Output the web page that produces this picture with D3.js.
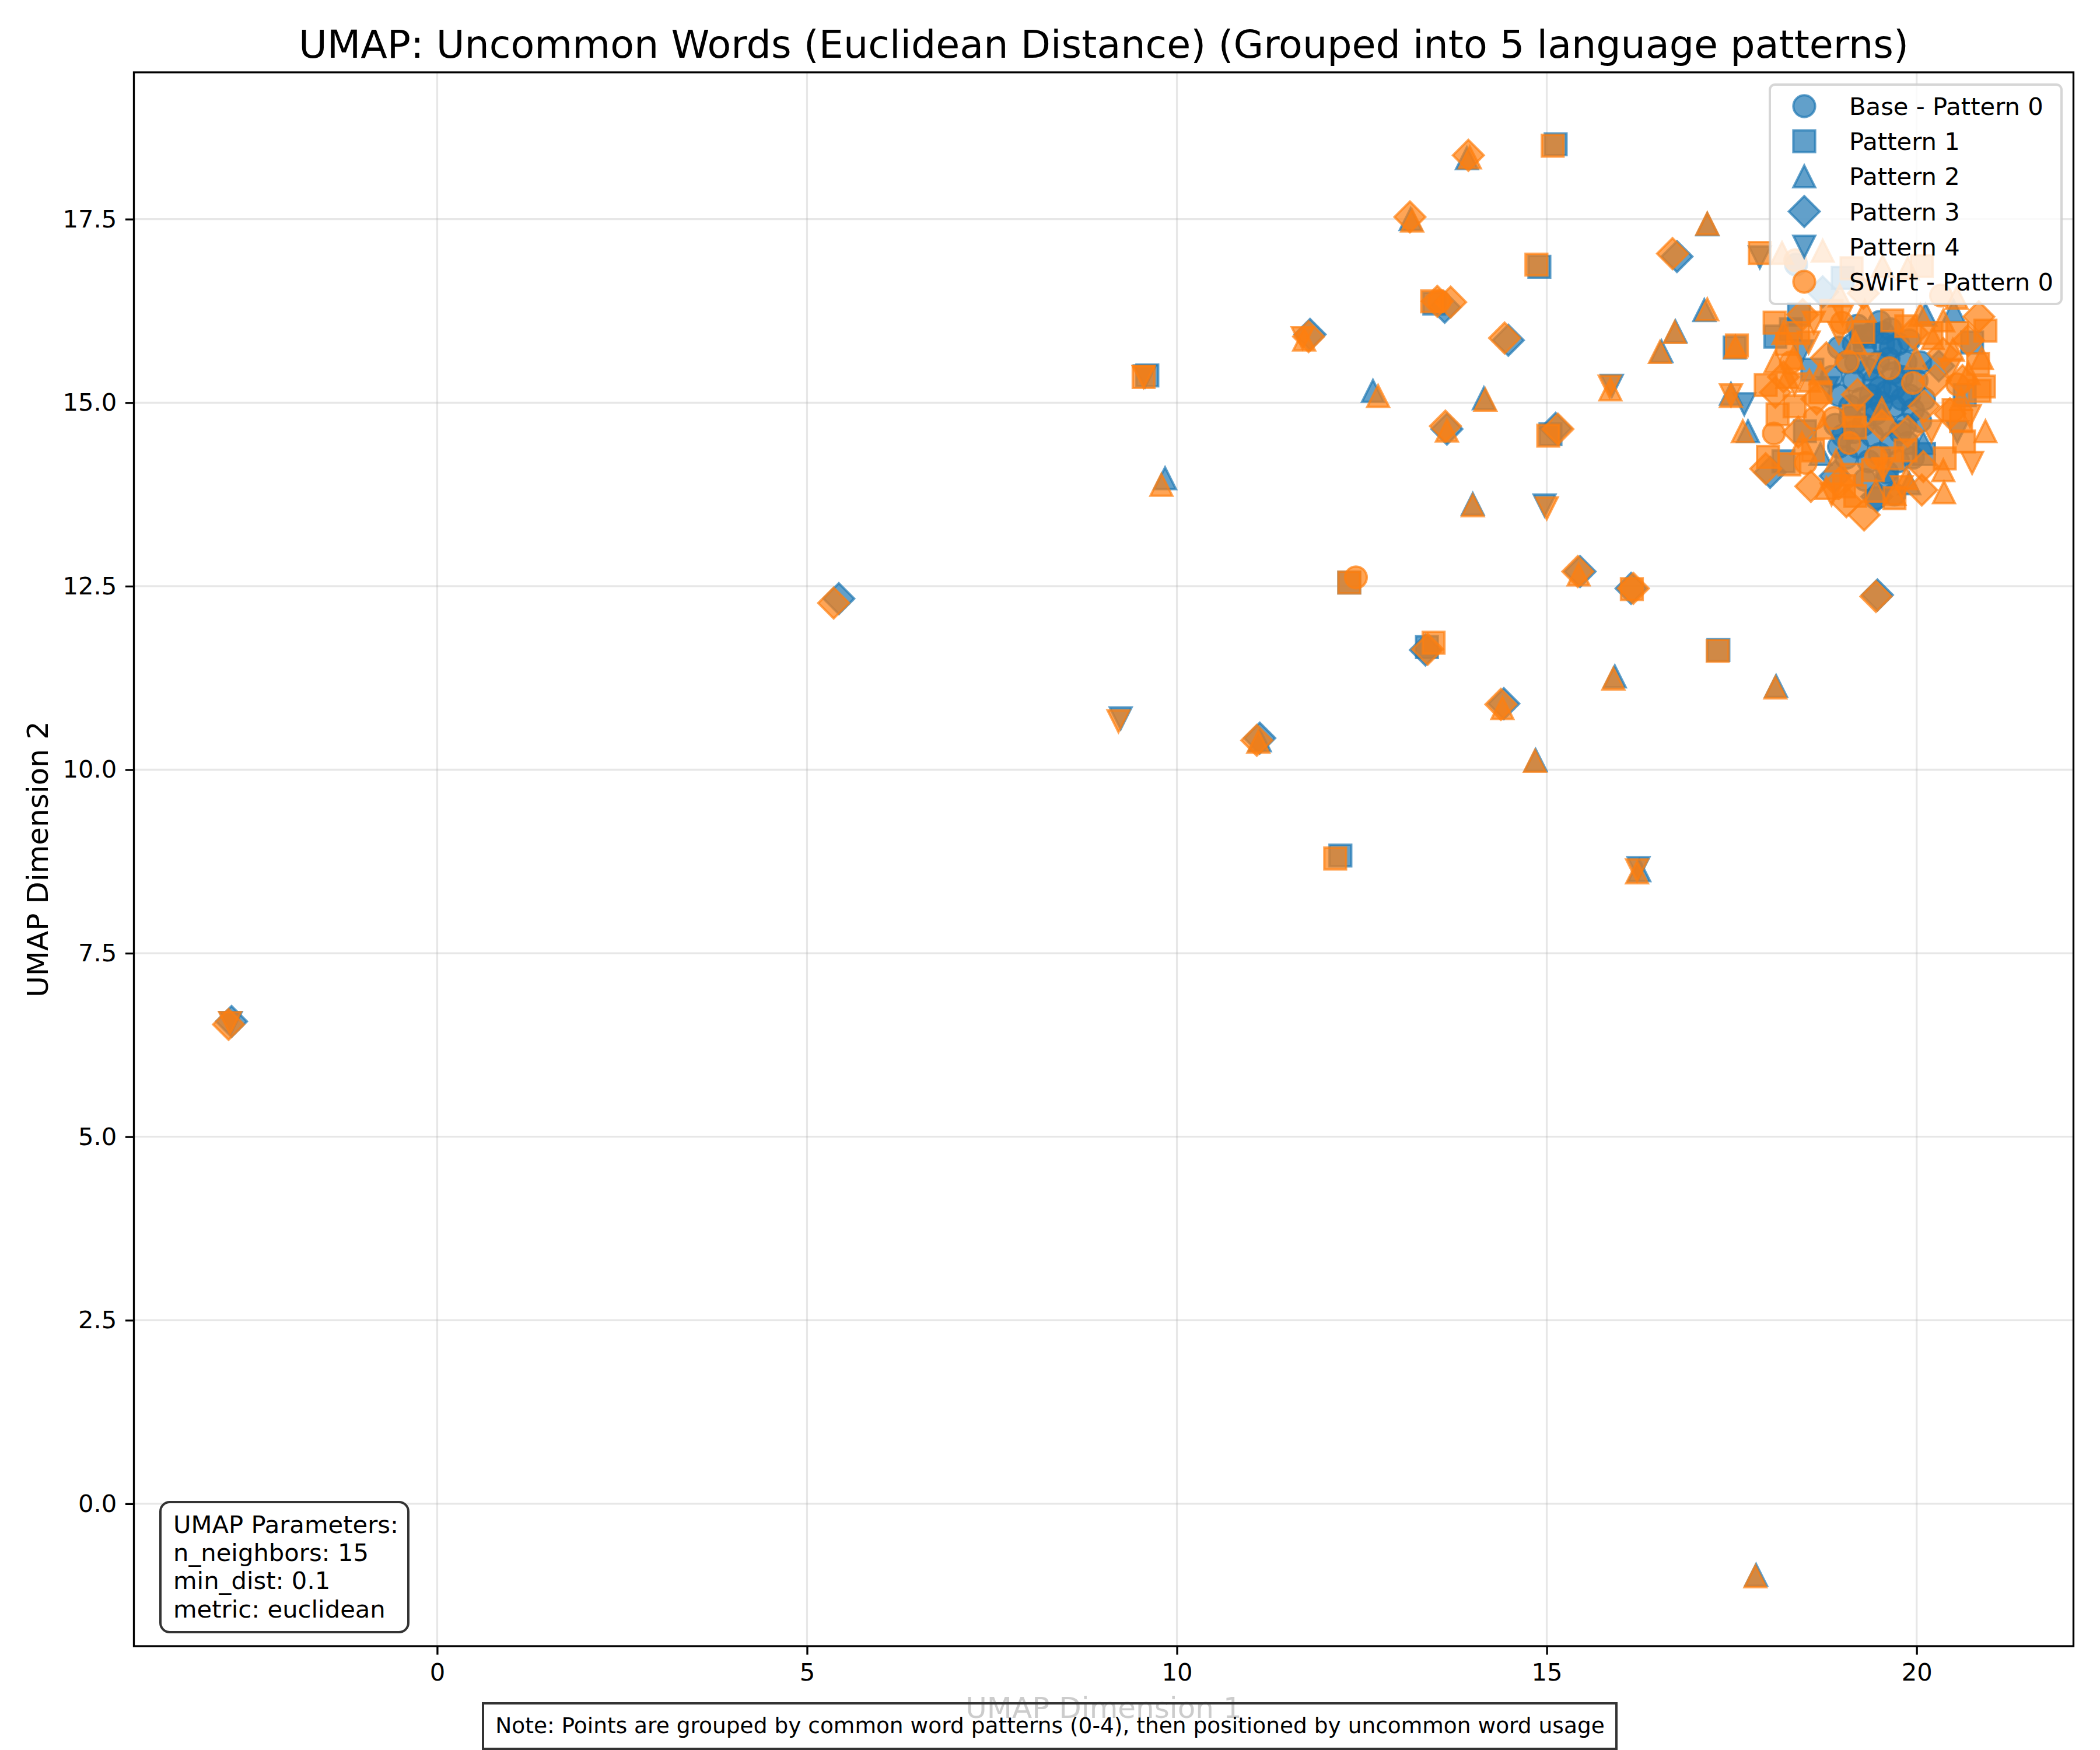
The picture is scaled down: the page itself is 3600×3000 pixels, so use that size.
<!DOCTYPE html>
<html>
<head>
<meta charset="utf-8">
<script src="https://cdn.jsdelivr.net/npm/d3@7"></script>
<style>
html,body{margin:0;padding:0;background:#fff;}
svg{display:block;font-family:"DejaVu Sans",sans-serif;}
</style>
</head>
<body>
<svg id="chart" width="3600" height="3000"></svg>
<script>
// ---------------- DATA ----------------
const titleText = "UMAP: Uncommon Words (Euclidean Distance) (Grouped into 5 language patterns)";
const xLabel = "UMAP Dimension 1";
const yLabel = "UMAP Dimension 2";
const xDomain = [-4.10, 22.12];
const yDomain = [-1.94, 19.50];
const xTicks = [0, 5, 10, 15, 20];
const yTicks = [0, 2.5, 5, 7.5, 10, 12.5, 15, 17.5];
const legendLabels = ["Base - Pattern 0", "Pattern 1", "Pattern 2", "Pattern 3", "Pattern 4", "SWiFt - Pattern 0"];
const paramLines = ["UMAP Parameters:", "n_neighbors: 15", "min_dist: 0.1", "metric: euclidean"];
const noteText = "Note: Points are grouped by common word patterns (0-4), then positioned by uncommon word usage";

// Base (blue) points by pattern
const base0 = [
 [19.50,15.20],[19.35,15.45],[19.62,15.60],[19.80,15.35],[19.25,15.05],[19.45,14.85],[19.70,14.95],
 [19.90,15.10],[19.15,15.30],[19.55,15.80],[19.30,15.75],[19.75,15.80],[19.10,14.80],[19.40,14.55],
 [19.65,14.45],[19.85,14.70],[19.95,14.90],[19.20,14.40],[19.50,14.30],[19.75,14.20],[19.05,15.55],
 [18.95,15.10],[19.60,15.15],[19.38,15.10],[19.48,15.55],[19.70,15.20],[19.28,14.70],[19.58,14.70],
 [19.85,15.55],[19.40,15.95],[19.65,16.00],[19.15,15.80],[19.00,14.55],[19.35,14.20],[19.60,13.95],
 [19.45,13.70],[20.00,15.30],[19.88,14.45],[19.25,15.90],[19.52,15.00],[19.42,15.30],[19.68,15.40],
 [19.18,15.55],[19.78,14.60],[19.10,14.95],[18.37,16.88],
 [18.95,15.75],[19.05,14.25],[19.90,15.85],[20.05,14.75],[19.30,13.95],[19.70,13.75],[18.90,14.70],
 [19.55,15.95],[20.05,15.55],[19.20,16.05],[18.85,15.35],[19.60,14.05],[19.95,14.25],[19.35,14.95],
 [19.65,15.75],[19.15,14.60],[19.80,15.05],[20.10,15.05],[18.95,14.40],[19.50,16.10]
];
const base1 = [
 [12.21,8.83],[9.60,15.37],[15.12,18.52],[14.90,16.85],[13.48,16.35],[15.05,14.57],[17.54,15.75],
 [12.33,12.55],[13.38,11.67],[17.32,11.63],[18.41,16.20],[18.09,15.90],[18.59,15.45],[18.49,14.61],
 [20.75,15.82],[19.00,16.70],[18.30,16.00],[20.65,15.10],[19.30,15.90],[20.10,14.30],[18.20,14.20]
];
const base2 = [
 [9.84,13.97],[13.16,17.50],[13.92,18.33],[12.65,15.16],[14.15,15.06],[14.00,13.62],[16.74,15.97],
 [16.55,15.70],[17.17,17.43],[17.13,16.26],[14.85,10.13],[15.92,11.27],[18.10,11.14],[16.25,8.63],
 [17.83,-0.97],[17.72,14.61],[17.49,15.12],[11.12,10.40],[20.12,16.20],[20.09,14.45],[20.50,16.25],
 [18.70,14.30],[19.90,13.90]
];
const base3 = [
 [-2.78,6.57],[5.43,12.33],[11.12,10.43],[11.80,15.93],[13.62,16.30],[14.48,15.85],[13.65,14.64],
 [15.12,14.65],[16.76,16.99],[13.36,11.63],[14.42,10.90],[15.45,12.70],[16.14,12.47],[19.47,12.38],
 [18.02,14.05],[18.73,16.51],[19.46,13.72],[18.90,14.00],[20.30,15.50]
];
const base4 = [
 [-2.79,6.55],[9.24,10.70],[14.97,13.60],[15.88,15.23],[16.24,8.66],[17.88,16.98],[17.67,14.98],
 [9.57,15.36],[18.45,15.70],[20.55,14.60],[18.80,15.20]
];

// SWiFt (orange) points by pattern
const swift0 = [
 [13.55,16.38],[12.42,12.62],[18.99,16.09],[19.07,15.56],[19.63,15.47],[19.95,15.27],[18.07,14.58],
 [18.62,14.79],[18.88,14.79],[19.09,14.45],[18.50,14.18],[18.36,16.94],[20.33,16.46],
 [18.30,15.55],[20.55,15.25],[19.45,14.25]
];
const swift1 = [
 [12.14,8.79],[9.55,15.35],[15.08,18.50],[14.86,16.88],[13.45,16.38],[15.02,14.55],[17.57,15.78],
 [17.88,17.04],[12.33,12.55],[13.47,11.73],[16.15,12.46],[17.31,11.62],
 [18.08,16.09],[19.28,15.96],[19.67,16.12],[19.86,16.04],[20.93,15.98],[18.25,15.80],[20.83,15.53],
 [20.91,15.22],[17.96,15.24],[18.70,15.14],[18.12,14.84],[19.15,14.82],[20.85,15.16],[20.64,14.47],
 [19.17,14.66],[17.99,14.26],[18.28,14.16],[19.12,14.02],[19.41,14.08],[19.67,14.24],[19.17,13.73],
 [19.70,13.70],[20.38,14.24],[19.02,13.86],[19.12,16.83],[20.07,16.86],[20.50,14.90],
 [18.40,15.95],[18.85,16.25],[20.55,15.95],[20.60,14.75],[18.35,14.95],[19.85,14.35],[20.20,15.95],
 [18.60,14.35]
];
const swift2 = [
 [11.10,10.38],[9.79,13.88],[11.72,15.86],[13.18,17.48],[13.96,18.34],[12.72,15.09],[13.65,14.62],
 [14.17,15.04],[14.00,13.60],[15.86,15.18],[16.73,15.96],[16.53,15.69],[17.17,17.44],[17.17,16.27],
 [17.55,15.76],[14.40,10.84],[14.84,10.12],[15.43,12.66],[15.90,11.24],[18.09,11.12],[16.22,8.60],
 [17.82,-0.99],[17.49,15.09],[17.65,14.61],
 [19.17,15.82],[19.30,16.25],[20.36,16.12],[20.22,15.88],[18.09,15.56],[18.33,15.61],[19.99,15.61],
 [20.49,15.72],[20.88,15.61],[18.25,15.35],[18.70,15.40],[19.53,14.92],[20.93,14.61],[18.73,14.66],
 [18.78,13.84],[18.91,14.21],[19.86,13.97],[20.37,13.78],[20.36,14.08],[19.70,13.76],[18.73,17.07],
 [19.54,16.86],[19.88,16.83],[20.54,16.43],[18.96,16.46],[18.18,17.04],
 [18.55,15.30],[20.05,16.20],[20.70,15.40],[18.45,14.45],[19.45,13.80],[20.60,15.05],[18.20,15.95]
];
const swift3 = [
 [-2.82,6.53],[5.36,12.27],[11.08,10.40],[11.78,15.90],[13.15,17.53],[13.94,18.37],[13.70,16.37],
 [13.52,16.38],[14.43,15.88],[13.63,14.68],[15.15,14.64],[16.70,17.03],[13.39,11.64],[14.38,10.89],
 [15.42,12.70],[16.17,12.47],[19.45,12.36],
 [18.46,16.20],[18.78,15.61],[20.25,15.30],[20.36,15.67],[20.84,16.17],[18.20,15.35],[20.62,15.30],
 [19.20,15.11],[18.09,15.14],[19.53,14.69],[19.88,14.61],[20.10,14.95],[17.96,14.10],[18.57,13.86],
 [19.29,13.47],[20.07,13.81],[20.09,14.13],[18.95,13.90],[19.28,16.49],
 [18.65,15.05],[20.45,14.85],[19.05,13.65],[20.70,15.85],[18.40,14.60],[19.95,15.95]
];
const swift4 = [
 [-2.80,6.55],[9.21,10.66],[9.55,15.35],[11.70,15.88],[15.00,13.56],[15.85,15.22],[16.22,8.63],
 [17.49,15.10],[18.61,16.09],[18.54,15.82],[19.36,15.52],[20.20,14.61],[20.72,14.82],[20.75,14.18],
 [19.00,16.20],[19.55,14.10],[18.85,13.75],
 [18.35,15.25],[20.45,15.45],[19.80,13.85],[18.95,15.95]
];

// ---------------- DRAWING ----------------
const W = 3600, H = 3000;
const M = {l: 229.5, r: 3554.5, t: 124, b: 2822};
const BLUE = "#1f77b4", ORANGE = "#ff7f0e";
const FS = 41.7;

const svg = d3.select("#chart");
const x = d3.scaleLinear().domain(xDomain).range([M.l, M.r]);
const y = d3.scaleLinear().domain(yDomain).range([M.b, M.t]);

const MS = 37.3, HS = MS / 2, DD = MS * Math.SQRT2 / 2;
function markerPath(shape) {
  switch (shape) {
    case "o": return d3.symbol(d3.symbolCircle, Math.PI * HS * HS)();
    case "s": return `M${-HS},${-HS}H${HS}V${HS}H${-HS}Z`;
    case "^": return `M0,${-HS}L${HS},${HS}L${-HS},${HS}Z`;
    case "v": return `M0,${HS}L${HS},${-HS}L${-HS},${-HS}Z`;
    case "D": return `M0,${-DD}L${DD},0L0,${DD}L${-DD},0Z`;
  }
}
const shapes = ["o", "s", "^", "D", "v"];

svg.append("rect").attr("width", W).attr("height", H).attr("fill", "#fff");

// grid
const grid = svg.append("g");
grid.selectAll("line.gx").data(xTicks).join("line")
  .attr("x1", d => x(d)).attr("x2", d => x(d)).attr("y1", M.t).attr("y2", M.b)
  .attr("stroke", "#b0b0b0").attr("stroke-opacity", 0.3).attr("stroke-width", 3.3);
grid.selectAll("line.gy").data(yTicks).join("line")
  .attr("y1", d => y(d)).attr("y2", d => y(d)).attr("x1", M.l).attr("x2", M.r)
  .attr("stroke", "#b0b0b0").attr("stroke-opacity", 0.3).attr("stroke-width", 3.3);

// series
const series = [
  {data: base0, shape: "o", color: BLUE}, {data: base1, shape: "s", color: BLUE},
  {data: base2, shape: "^", color: BLUE}, {data: base3, shape: "D", color: BLUE},
  {data: base4, shape: "v", color: BLUE},
  {data: swift0, shape: "o", color: ORANGE}, {data: swift1, shape: "s", color: ORANGE},
  {data: swift2, shape: "^", color: ORANGE}, {data: swift3, shape: "D", color: ORANGE},
  {data: swift4, shape: "v", color: ORANGE}
];
const pts = svg.append("g");
series.forEach(s => {
  pts.append("g").selectAll("path").data(s.data).join("path")
    .attr("d", markerPath(s.shape))
    .attr("transform", d => `translate(${x(d[0])},${y(d[1])})`)
    .attr("fill", s.color).attr("fill-opacity", 0.7)
    .attr("stroke", s.color).attr("stroke-opacity", 0.7).attr("stroke-width", 4);
});

// axes
const xAxis = d3.axisBottom(x).tickValues(xTicks).tickFormat(d3.format("d")).tickSize(14.6).tickPadding(14.6).tickSizeOuter(0);
const yAxis = d3.axisLeft(y).tickValues(yTicks).tickFormat(d3.format(".1f")).tickSize(14.6).tickPadding(14.6).tickSizeOuter(0);
const gx = svg.append("g").attr("transform", `translate(0,${M.b})`).call(xAxis);
const gy = svg.append("g").attr("transform", `translate(${M.l},0)`).call(yAxis);
[gx, gy].forEach(g => {
  g.select(".domain").remove();
  g.selectAll(".tick line").attr("stroke", "#000").attr("stroke-width", 3.3);
  g.selectAll(".tick text").attr("font-size", FS).attr("fill", "#000").attr("font-family", "DejaVu Sans");
});

// spines
svg.append("rect").attr("x", M.l).attr("y", M.t).attr("width", M.r - M.l).attr("height", M.b - M.t)
  .attr("fill", "none").attr("stroke", "#000").attr("stroke-width", 3.3);

// title
svg.append("text").attr("x", (M.l + M.r) / 2).attr("y", 99).attr("text-anchor", "middle")
  .attr("font-size", 66.7).attr("fill", "#000").text(titleText);

// y label
svg.append("text").attr("transform", `translate(82,${(M.t + M.b) / 2}) rotate(-90)`)
  .attr("text-anchor", "middle").attr("font-size", 50).attr("fill", "#000").text(yLabel);

// legend
const lg = svg.append("g");
lg.append("rect").attr("x", 3034).attr("y", 145).attr("width", 500).attr("height", 376).attr("rx", 9)
  .attr("fill", "#fff").attr("fill-opacity", 0.8)
  .attr("stroke", "#cccccc").attr("stroke-opacity", 0.8).attr("stroke-width", 4);
const legendItems = legendLabels.map((t, i) => ({
  label: t, shape: i < 5 ? shapes[i] : "o", color: i < 5 ? BLUE : ORANGE, row: i
}));
const rowY = i => 182 + i * 60.2;
lg.selectAll("path").data(legendItems).join("path")
  .attr("d", d => markerPath(d.shape))
  .attr("transform", d => `translate(3093,${rowY(d.row)})`)
  .attr("fill", d => d.color).attr("fill-opacity", 0.7)
  .attr("stroke", d => d.color).attr("stroke-opacity", 0.7).attr("stroke-width", 4);
lg.selectAll("text").data(legendItems).join("text")
  .attr("x", 3170).attr("y", d => rowY(d.row) + 15).attr("font-size", FS).attr("fill", "#000")
  .text(d => d.label);

// parameter box
const pb = svg.append("g");
pb.append("rect").attr("x", 275).attr("y", 2575).attr("width", 425).attr("height", 223).attr("rx", 16)
  .attr("fill", "#fff").attr("fill-opacity", 0.9).attr("stroke", "#333").attr("stroke-width", 4);
pb.selectAll("text").data(paramLines).join("text")
  .attr("x", 297).attr("y", (d, i) => 2628 + i * 48.2).attr("font-size", FS).attr("fill", "#000")
  .text(d => d);

// x label + note box
const nb = svg.append("g");
nb.append("rect").attr("x", 828).attr("y", 2920).attr("width", 1943).attr("height", 78)
  .attr("fill", "#fff");
nb.append("text").attr("x", (M.l + M.r) / 2).attr("y", 2945).attr("text-anchor", "middle")
  .attr("font-size", 50).attr("fill", "#cccccc").text(xLabel);
nb.append("rect").attr("x", 828).attr("y", 2920).attr("width", 1943).attr("height", 78)
  .attr("fill", "none").attr("stroke", "#333").attr("stroke-width", 4);
nb.append("text").attr("x", 1800).attr("y", 2971).attr("text-anchor", "middle")
  .attr("font-size", 37.5).attr("fill", "#000").text(noteText);
</script>
</body>
</html>
